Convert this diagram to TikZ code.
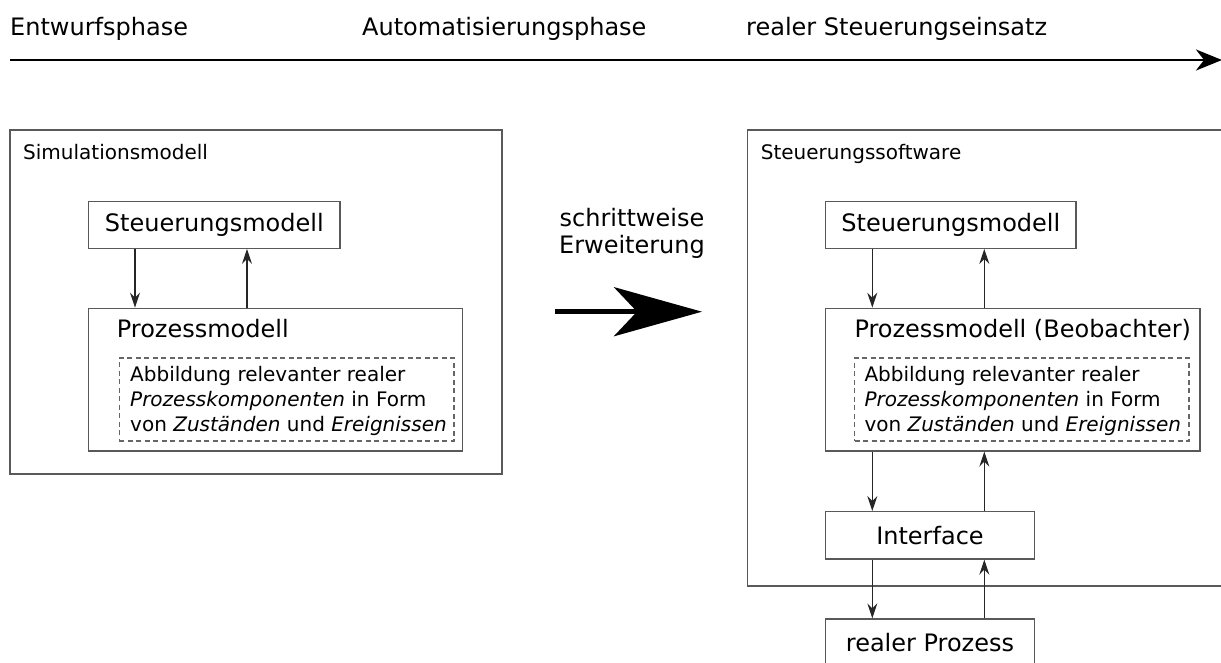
\documentclass[tikz,border=0pt]{standalone}
\usepackage{fontspec}
\setmainfont{DejaVu Sans}
\usetikzlibrary{arrows.meta}
\begin{document}
\begin{tikzpicture}[x=1pt,y=-1pt,
  box/.style={draw=black!65, line width=1.3pt, rectangle, inner sep=0pt},
  dashbox/.style={draw=black!60, line width=1.1pt, dash pattern=on 5pt off 3.5pt, rectangle, inner sep=0pt},
  big/.style={font=\fontsize{24}{27}\selectfont},
  small/.style={font=\fontsize{20}{25}\selectfont},
  lbl/.style={inner sep=0pt, anchor=base west},
  flow/.style={draw=black!85, line width=1.3pt, -{Stealth[length=15pt,width=10pt,inset=5pt]}},
  timeline/.style={draw=black, line width=2.4pt, -{Stealth[length=26pt,width=21pt,inset=8pt]}},
  bigarrow/.style={draw=black, line width=5.3pt, -{Stealth[length=88pt,width=49pt,inset=23pt]}}]
\clip (0,0) rectangle (1221,662);

% phase labels and time axis
\node[big, lbl] (ph1) at (10,35.5) {Entwurfsphase};
\node[big, lbl] (ph2) at (362,35.5) {Automatisierungsphase};
\node[big, lbl] (ph3) at (746,35.5) {realer Steuerungseinsatz};
\coordinate (t0) at (10,60);
\coordinate (t1) at (1222,60);
\draw[timeline] (t0) -- (t1);

% simulation model
\node[box, minimum width=492pt, minimum height=344pt] (simbox) at (256,302) {};
\node[small, lbl] (simlbl) at (23,159.5) {Simulationsmodell};
\node[box, big, minimum width=251.3pt, minimum height=46.6pt] (sm1) at (214.35,225) {Steuerungsmodell};
\node[box, minimum width=374pt, minimum height=142.7pt] (pm1) at (275.7,379.65) {};
\node[big, lbl] (pm1t) at (116.7,337.3) {Prozessmodell};
\node[dashbox, minimum width=334.7pt, minimum height=83pt] (d1) at (286.65,399.5) {};
% the base anchor of a multi-line node sits on its last line
\node[small, lbl, align=left] (d1t) at (130,431.7)
  {Abbildung relevanter realer\\\textit{Prozesskomponenten} in Form\\von \textit{Zuständen} und \textit{Ereignissen}};
\coordinate (ldn) at (135,0);
\coordinate (lup) at (247,0);
\draw[flow] (ldn |- sm1.south) -- (ldn |- pm1.north);
\draw[flow] (lup |- pm1.north) -- (lup |- sm1.south);

% stepwise extension
\node[big, align=center, anchor=base, inner sep=0pt] (ext) at (632,253) {schrittweise\\Erweiterung};
\coordinate (ms) at (555,311.7);
\coordinate (me) at (702,311.7);
\draw[bigarrow] (ms) -- (me);

% control software
\node[box, minimum width=500pt, minimum height=456pt] (swbox) at (997.3,358) {};
\node[small, lbl] (swlbl) at (760.7,159.5) {Steuerungssoftware};
\node[box, big, minimum width=250.3pt, minimum height=46.6pt] (sm2) at (950.85,225) {Steuerungsmodell};
\node[box, minimum width=374.3pt, minimum height=142.7pt] (pm2) at (1012.85,379.65) {};
\node[big, lbl] (pm2t) at (854.3,337) {Prozessmodell (Beobachter)};
\node[dashbox, minimum width=334.5pt, minimum height=83pt] (d2) at (1021.75,399.5) {};
\node[small, lbl, align=left] (d2t) at (864.3,431.2)
  {Abbildung relevanter realer\\\textit{Prozesskomponenten} in Form\\von \textit{Zuständen} und \textit{Ereignissen}};
\node[box, big, minimum width=208.6pt, minimum height=47.3pt] (if) at (930,535.35) {Interface};
\node[box, big, minimum width=208.6pt, minimum height=47pt] (rp) at (930,642.5) {realer Prozess};
\coordinate (rdn) at (872.3,0);
\coordinate (rup) at (984.3,0);
\draw[flow] (rdn |- sm2.south) -- (rdn |- pm2.north);
\draw[flow] (rup |- pm2.north) -- (rup |- sm2.south);
\draw[flow] (rdn |- pm2.south) -- (rdn |- if.north);
\draw[flow] (rup |- if.north) -- (rup |- pm2.south);
\draw[flow] (rdn |- if.south) -- (rdn |- rp.north);
\draw[flow] (rup |- rp.north) -- (rup |- if.south);
\end{tikzpicture}
\end{document}
